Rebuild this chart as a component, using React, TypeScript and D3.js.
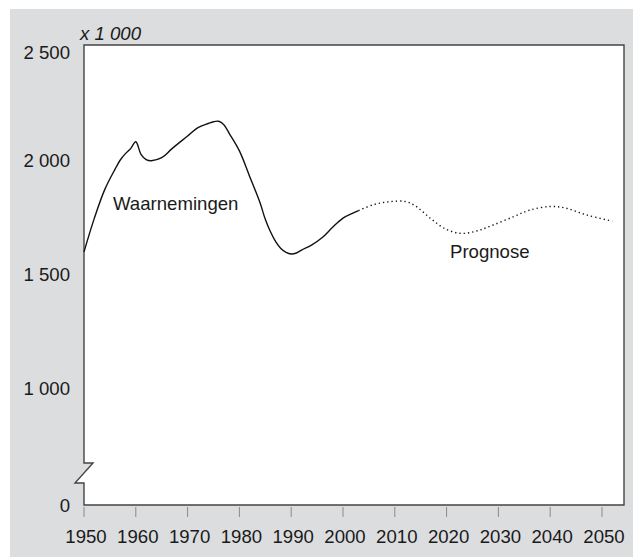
import React, { useRef, useEffect } from 'react';
import * as d3 from 'd3';

// observed values (x 1 000)
const obsYears = [1950, 1952, 1954, 1956, 1957, 1958, 1959, 1960, 1961, 1962, 1963, 1965, 1967, 1970, 1972, 1974, 1975, 1976, 1977, 1978, 1980, 1982, 1984, 1985, 1986, 1987, 1988, 1989, 1990, 1991, 1992, 1994, 1996, 1998, 2000, 2002, 2003];
const obsValues = [1597, 1745, 1870, 1960, 2000, 2028, 2050, 2080, 2025, 2002, 1997, 2010, 2050, 2105, 2142, 2160, 2168, 2170, 2155, 2118, 2040, 1927, 1811, 1740, 1685, 1642, 1612, 1595, 1588, 1592, 1605, 1628, 1660, 1705, 1745, 1768, 1778];

// forecast values (x 1 000)
const progYears = [2003, 2006, 2009, 2012, 2014, 2017, 2020, 2023, 2026, 2029, 2033, 2036, 2040, 2043, 2047, 2052];
const progValues = [1778, 1805, 1817, 1818, 1798, 1742, 1695, 1678, 1690, 1715, 1752, 1780, 1796, 1789, 1759, 1732];

const xTicks = [1950, 1960, 1970, 1980, 1990, 2000, 2010, 2020, 2030, 2040, 2050];
const yTicks = [0, 1000, 1500, 2000, 2500];
const yTickLabels = ['0', '1 000', '1 500', '2 000', '2 500'];

const W = 640;
const H = 558;
const FONT = "'Liberation Sans', Arial, Helvetica, sans-serif";
const FS = 18.6;

const Chart = () => {
    const ref = useRef(null);

    useEffect(() => {
        const svg = d3.select(ref.current);
        svg.selectAll('*').remove();

        const left = 84, right = 624, top = 45, bottom = 505;

        const x = d3.scaleLinear().domain([1950, 2050]).range([left, 602]);
        // broken axis: 0 sits at the bottom, 1000..2500 linear
        const y = d3.scaleLinear().domain([0, 1000, 2500]).range([bottom, 388, 46]);

        // grey background
        svg.append('rect')
            .attr('x', 10).attr('y', 9)
            .attr('width', 623).attr('height', 548)
            .attr('fill', '#dcdddf');

        // plot frame with axis break
        const b1 = 463, b2 = 483;
        svg.append('path')
            .attr('d', `M${left},${top}H${right}V${bottom}H${left}V${b2}H${left - 9}L${left + 9},${b1}H${left}Z`)
            .attr('fill', '#fff')
            .attr('stroke', '#444')
            .attr('stroke-width', 1.4)
            .attr('stroke-linejoin', 'miter');

        // x ticks
        const xg = svg.append('g');
        xg.selectAll('line')
            .data(xTicks)
            .join('line')
            .attr('x1', d => x(d)).attr('x2', d => x(d))
            .attr('y1', bottom + 2).attr('y2', bottom + 12)
            .attr('stroke', '#8a8a8a')
            .attr('stroke-width', 1);
        xg.selectAll('text')
            .data(xTicks)
            .join('text')
            .attr('x', d => x(d) + 2)
            .attr('y', 543)
            .attr('text-anchor', 'middle')
            .attr('font-family', FONT)
            .attr('font-size', FS)
            .attr('fill', '#1a1a1a')
            .text(d => d);

        // y tick labels
        svg.append('g')
            .selectAll('text')
            .data(yTicks)
            .join('text')
            .attr('x', 70)
            .attr('y', d => y(d) + (d === 2500 ? 6 : 0))
            .attr('dy', '0.35em')
            .attr('text-anchor', 'end')
            .attr('font-family', FONT)
            .attr('font-size', FS)
            .attr('fill', '#1a1a1a')
            .text((d, i) => yTickLabels[i]);

        svg.append('text')
            .attr('x', 80).attr('y', 40)
            .attr('font-family', FONT)
            .attr('font-size', FS)
            .attr('font-style', 'italic')
            .attr('fill', '#1a1a1a')
            .text('x 1 000');

        const line = d3.line()
            .x(d => x(d[0]))
            .y(d => y(d[1]))
            .curve(d3.curveCatmullRom.alpha(0.5));

        svg.append('path')
            .datum(obsYears.map((yr, i) => [yr, obsValues[i]]))
            .attr('d', line)
            .attr('fill', 'none')
            .attr('stroke', '#111')
            .attr('stroke-width', 1.4);

        svg.append('path')
            .datum(progYears.map((yr, i) => [yr, progValues[i]]))
            .attr('d', line)
            .attr('fill', 'none')
            .attr('stroke', '#111')
            .attr('stroke-width', 1.4)
            .attr('stroke-dasharray', '1.3 3');

        svg.append('text')
            .attr('x', 113).attr('y', 210)
            .attr('font-family', FONT)
            .attr('font-size', FS)
            .attr('fill', '#1a1a1a')
            .text('Waarnemingen');

        svg.append('text')
            .attr('x', 450).attr('y', 258)
            .attr('font-family', FONT)
            .attr('font-size', FS)
            .attr('fill', '#1a1a1a')
            .text('Prognose');
    }, []);

    return (
        <svg ref={ref} width={W} height={H}
            style={{ position: 'absolute', left: 0, top: 0, background: '#fff' }} />
    );
};

export default function App() {
    return <Chart />;
}
